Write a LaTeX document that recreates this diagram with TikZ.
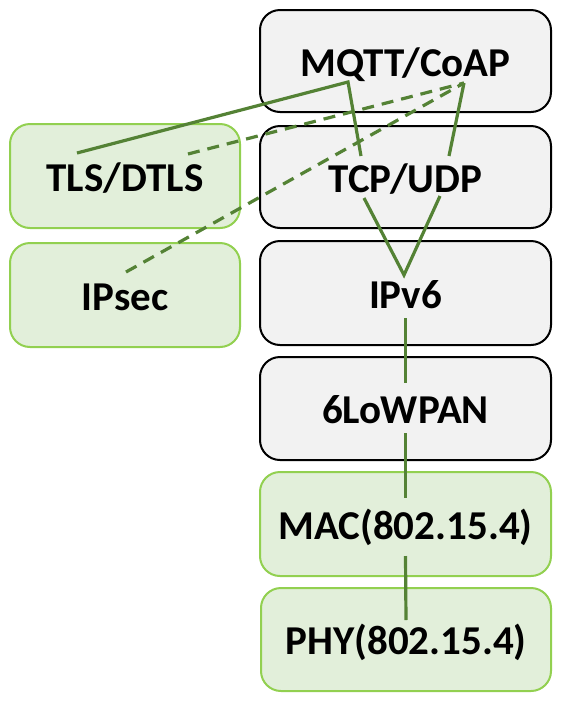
\documentclass[tikz,border=0pt]{standalone}
\usepackage{fontspec}
\setmainfont{Carlito}
\usetikzlibrary{calc}
\definecolor{greyfill}{HTML}{F2F2F2}
\definecolor{greenfill}{HTML}{E2EFDA}
\definecolor{greenborder}{HTML}{92D050}
\definecolor{linkgreen}{HTML}{548235}
\tikzset{
  layer/.style={rounded corners=20pt, line width=2pt, minimum width=291pt, minimum height=102pt,
    inner sep=0pt, font=\fontsize{41}{45}\selectfont\bfseries, text height=26pt, text depth=0pt},
  greybox/.style={layer, draw=black, fill=greyfill},
  greenbox/.style={layer, draw=greenborder, fill=greenfill},
  sidebox/.style={greenbox, minimum width=230pt, minimum height=104pt},
  link/.style={draw=linkgreen, line width=3.2pt},
  dlink/.style={link, dash pattern=on 12pt off 8pt}
}
\begin{document}
\begin{tikzpicture}[x=1pt,y=-1pt]
\useasboundingbox (0,0) rectangle (563,705);
\node[greybox] (mqtt) at (405.5,61) {\raisebox{-2pt}{MQTT/CoAP}};
\node[greybox] (tcp) at (405.5,177) {\raisebox{-2pt}{TCP/UDP}};
\node[greybox, minimum height=104pt] (ipv6) at (405.5,293) {\raisebox{-2pt}{IPv6}};
\node[greybox, minimum height=103pt] (lowpan) at (405.5,408.5) {\raisebox{-2pt}{6LoWPAN}};
\node[greenbox, minimum height=104pt] (mac) at (405.5,524) {\raisebox{-2pt}{MAC(802.15.4)}};
\node[greenbox, minimum width=290pt, minimum height=103pt] (phy) at (406,639.5) {\raisebox{-2pt}{PHY(802.15.4)}};
\node[sidebox] (tls) at (125,176) {\raisebox{-2pt}{TLS/DTLS}};
\node[sidebox] (ipsec) at (125,295) {\raisebox{-2pt}{IPsec}};
% attachment points
\coordinate (mqttL) at ($(mqtt.center)+(-57.5,21)$);
\coordinate (mqttR) at ($(mqtt.center)+(58.5,22)$);
\coordinate (tcpTL) at ($(tcp.center)+(-44.5,-21)$);
\coordinate (tcpTR) at ($(tcp.center)+(43.5,-21)$);
\coordinate (tcpBL) at ($(tcp.center)+(-41.5,21)$);
\coordinate (tcpBR) at ($(tcp.center)+(34.5,19)$);
\coordinate (ipv6T) at ($(ipv6.center)+(-1.5,-18)$);
\coordinate (ipv6B) at ($(ipv6.center)+(0,25)$);
\coordinate (lowpanT) at ($(lowpan.center)+(0,-25.5)$);
\coordinate (lowpanB) at ($(lowpan.center)+(0,24.5)$);
\coordinate (macT) at ($(mac.center)+(0,-26)$);
\coordinate (macB) at ($(mac.center)+(0,32)$);
\coordinate (phyT) at ($(phy.center)+(0,-19.5)$);
\coordinate (tlsS) at ($(tls.center)+(-48,-23)$);
\coordinate (tlsD) at ($(tls.center)+(63,-22)$);
\coordinate (ipsecD) at ($(ipsec.center)+(1,-23)$);
% connectors
\draw[link] (tlsS) -- (mqttL) -- (tcpTL);
\draw[link] (mqttR) -- (tcpTR);
\draw[dlink] (tlsD) -- (mqttR);
\draw[dlink] (ipsecD) -- (mqttR);
\draw[link] (tcpBL) -- (ipv6T) -- (tcpBR);
\draw[link] (ipv6B) -- (lowpanT);
\draw[link] (lowpanB) -- (macT);
\draw[link] (macB) -- (phyT);
\end{tikzpicture}
\end{document}
